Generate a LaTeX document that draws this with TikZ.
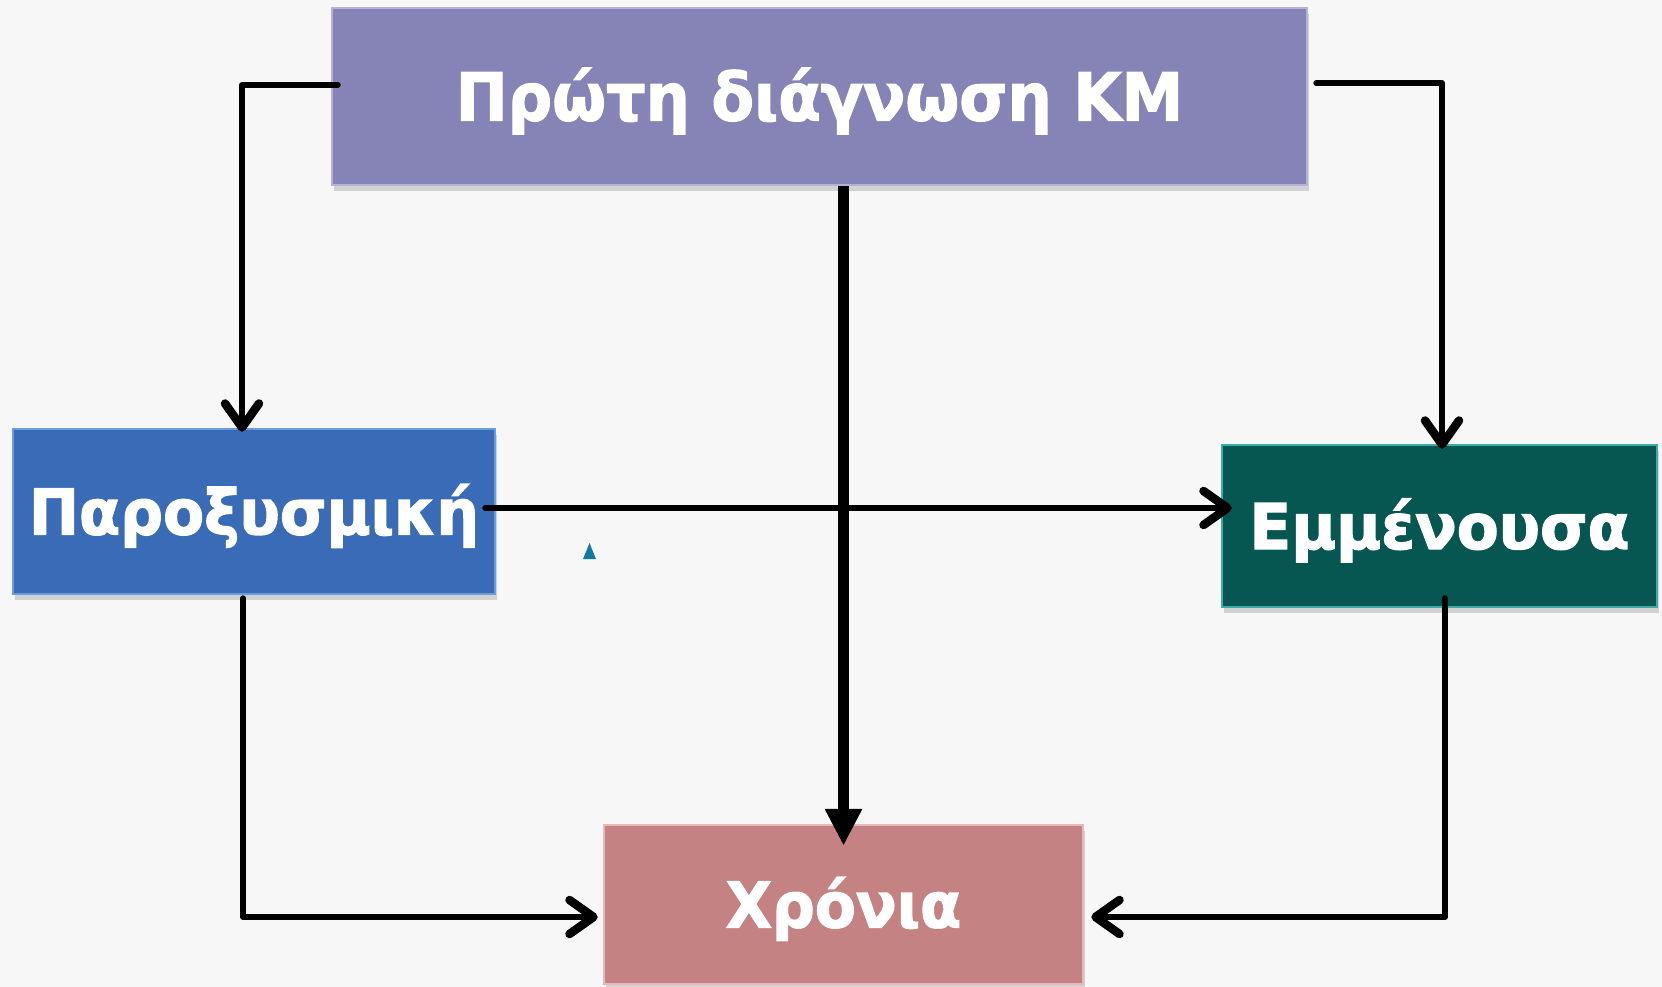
\documentclass[tikz,border=0pt]{standalone}
\usepackage{fontspec}
\usepackage{graphicx}
\setmainfont{DejaVu Sans}[BoldFeatures={FakeBold=2}]
\usetikzlibrary{arrows.meta,shadows,calc}
\definecolor{bg}{HTML}{F7F7F7}
\definecolor{topc}{HTML}{8683B6}
\definecolor{topb}{HTML}{B4B2D8}
\definecolor{parc}{HTML}{3A6BB6}
\definecolor{parb}{HTML}{6A9CE0}
\definecolor{emmc}{HTML}{065752}
\definecolor{emmb}{HTML}{3AAFA9}
\definecolor{chrc}{HTML}{C48283}
\definecolor{chrb}{HTML}{E6B8BA}
\definecolor{tri}{HTML}{137AA6}
\tikzset{
  boxnode/.style={rectangle, inner sep=0pt, line width=2.5pt, text=white,
    drop shadow={opacity=0.25, shadow xshift=2pt, shadow yshift=-6pt, fill=black!60},
    text height=46pt, text depth=0pt, align=center},
  arr/.style={line width=6pt, line cap=round, line join=round,
    -{Straight Barb[length=24pt, width=34pt, line width=8.5pt, round]}},
  bigarr/.style={line width=11.5pt, -{Triangle[length=37pt, width=35pt]}}
}
\begin{document}
\begin{tikzpicture}[x=1pt,y=-1pt]
\fill[bg] (0,0) rectangle (1662,987);
\useasboundingbox (0,0) rectangle (1662,987);

\node[boxnode, fill=topc, draw=topb, minimum width=975pt, minimum height=177pt,
  text height=48pt, font=\fontsize{66}{70}\selectfont\bfseries] (top) at (819.5,96.5)
  {\scalebox{0.94}[1]{Πρώτη διάγνωση ΚΜ}};
\node[boxnode, fill=parc, draw=parb, minimum width=482pt, minimum height=165pt,
  font=\fontsize{63}{67}\selectfont\bfseries] (par) at (254,511.5)
  {\scalebox{0.95}[1]{Παροξυσμική}};
\node[boxnode, fill=emmc, draw=emmb, minimum width=435pt, minimum height=162pt,
  font=\fontsize{63}{67}\selectfont\bfseries] (emm) at (1439.5,526)
  {\scalebox{0.97}[1]{Εμμένουσα}};
\node[boxnode, fill=chrc, draw=chrb, minimum width=479pt, minimum height=159pt,
  font=\fontsize{63}{67}\selectfont\bfseries] (chr) at (843.5,904.5)
  {\scalebox{0.95}[1]{Χρόνια}};

% connectors
\draw[arr] ([xshift=7pt,yshift=11.5pt]top.west) -| ([xshift=-12pt,yshift=-4pt]par.north);
\draw[arr] ([xshift=8pt,yshift=13.5pt]top.east) -| ([xshift=2.5pt,yshift=-5pt]emm.north);
\draw[bigarr] (chr.north |- top.south) -- ([yshift=-22pt]chr.north);
\coordinate (h1) at ([xshift=-11pt,yshift=3.5pt]par.east);
\draw[arr, shorten >=-11pt] (h1) -- (h1 -| emm.west);
\draw[arr, shorten >=5pt] ([xshift=-11pt,yshift=-3pt]par.south) |- ([yshift=-12.5pt]chr.west);
\draw[arr, shorten >=7pt] ([xshift=5.5pt,yshift=10pt]emm.south) |- ([yshift=-12.5pt]chr.east);

% small marker
\fill[tri] (583,559) -- (589.5,543) -- (596,559) -- cycle;
\end{tikzpicture}
\end{document}
